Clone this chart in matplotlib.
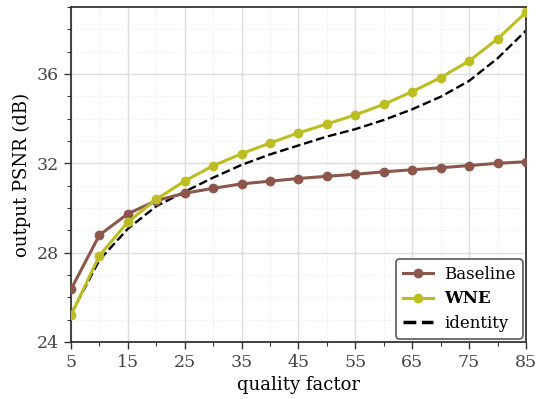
import numpy as np
import matplotlib
matplotlib.use('Agg')
import matplotlib.pyplot as plt
from matplotlib.ticker import MultipleLocator

# data
qf = [5, 10, 15, 20, 25, 30, 35, 40, 45, 50, 55, 60, 65, 70, 75, 80, 85]
baseline = [26.36, 28.79, 29.74, 30.33, 30.66, 30.88, 31.08, 31.2, 31.32, 31.42, 31.51,
            31.62, 31.71, 31.8, 31.9, 32.0, 32.07]
wne = [25.2, 27.87, 29.37, 30.39, 31.21, 31.89, 32.43, 32.91, 33.36, 33.76, 34.17,
       34.64, 35.21, 35.84, 36.58, 37.57, 38.76]
identity = [25.25, 27.67, 29.07, 30.08, 30.73, 31.36, 31.93, 32.4, 32.8, 33.2, 33.53,
            33.94, 34.42, 34.98, 35.69, 36.7, 37.94]

plt.rcParams['font.family'] = 'DejaVu Serif'

fig = plt.figure(figsize=(5.4, 3.99), dpi=100)
axs = fig.add_axes([0.1315, 0.1429, 0.8425, 0.8396])

axs.plot(qf, baseline, '-o', color='#8c564b', lw=2.2, ms=6, label='Baseline', zorder=3)
axs.plot(qf, wne, '-o', color='#bcbd22', lw=2.2, ms=6, label='WNE', zorder=3)
axs.plot(qf, identity, '--', color='black', lw=1.7, label='identity', zorder=2)

axs.set_xlim(5, 85)
axs.set_ylim(24, 39)
axs.xaxis.set_minor_locator(MultipleLocator(5))
axs.yaxis.set_major_locator(MultipleLocator(4))
axs.yaxis.set_minor_locator(MultipleLocator(1))
axs.set_xticks(np.arange(5, 86, 10))

axs.grid(which='major', color='#dddddd', lw=1.0)
axs.grid(which='minor', color='#e8e8e8', lw=0.8, ls=':')
axs.set_axisbelow(True)

for s in axs.spines.values():
    s.set_color('#333333')
    s.set_linewidth(1.3)

axs.tick_params(which='major', direction='out', length=5, width=1, color='#333333',
                labelsize=12.5, labelcolor='#444444')
axs.tick_params(which='minor', direction='out', length=3, width=0.8, color='#333333')

axs.set_xlabel('quality factor', fontsize=13)
axs.set_ylabel('output PSNR (dB)', fontsize=13)

leg = axs.legend(loc='lower right', fontsize=12, fancybox=True, framealpha=1,
                 edgecolor='#666666', handlelength=1.8, borderpad=0.4, labelspacing=0.45,
                 borderaxespad=0.2, handletextpad=0.7)
leg.get_frame().set_linewidth(1.3)
leg.get_lines()[2].set_linewidth(2.5)
leg.get_texts()[1].set_fontweight('bold')

fig.savefig('out.png', dpi=100)
